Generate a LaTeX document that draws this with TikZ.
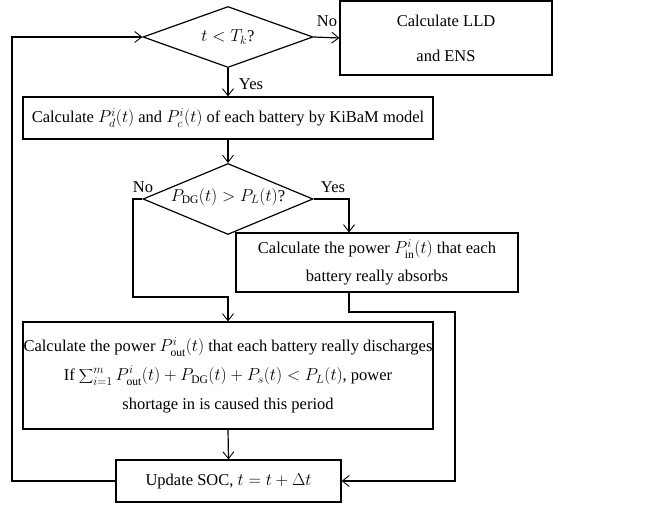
\documentclass[tikz,border=0pt]{standalone}
\usepackage{fontspec}
\setmainfont{Liberation Serif}
\usetikzlibrary{shapes.geometric,arrows.meta}
\tikzset{
  every picture/.style={line width=1.2pt},
  box/.style={draw, rectangle, inner sep=0pt, align=center, font=\fontsize{16.5}{29}\selectfont},
  dia/.style={draw, diamond, inner sep=0pt, aspect=2.8},
  lbl/.style={inner sep=0pt, font=\fontsize{16.5}{20}\selectfont},
  arr/.style={-{Straight Barb[length=7pt,width=11pt,line width=0.9pt]}},
}
\begin{document}
\begin{tikzpicture}[x=1pt,y=-1pt]
\useasboundingbox (0,0) rectangle (648,505);
% nodes
\node[dia, minimum width=170pt, minimum height=61pt] (d1) at (228,37) {};
\node[lbl] (d1t) at (228,37) {$t < T_k$?};
\node[box, minimum width=212pt, minimum height=74pt, font=\fontsize{16.5}{35}\selectfont] (lld) at (446,38) {Calculate LLD\\and ENS};
\node[box, minimum width=410pt, minimum height=42pt] (b2) at (228,118) {Calculate $P^i_d(t)$ and $P^i_c(t)$ of each battery by KiBaM model};
\node[dia, minimum width=170pt, minimum height=71pt] (d2) at (228,199) {};
\node[lbl] (d2t) at (228,197) {$P_{\mathrm{DG}}(t) > P_L(t)$?};
\node[box, minimum width=282pt, minimum height=59pt, font=\fontsize{16.5}{28}\selectfont] (b4) at (377,262.5) {Calculate the power $P^i_{\mathrm{in}}(t)$ that each\\battery really absorbs};
\node[box, minimum width=410pt, minimum height=107pt] (b3) at (228,375.5) {Calculate the power $P^i_{\mathrm{out}}(t)$ that each battery really discharges\\If $\displaystyle\sum\nolimits_{i=1}^m P^i_{\mathrm{out}}(t) + P_{\mathrm{DG}}(t) + P_s(t) < P_L(t)$, power\\shortage in is caused this period};
\node[box, minimum width=225pt, minimum height=42pt] (b5) at (228.5,481) {Update SOC, $t = t + \Delta t$};
% labels
\node[lbl] (no1) at (327,21) {No};
\node[lbl] (yes1) at (251,84) {Yes};
\node[lbl] (no2) at (143,187) {No};
\node[lbl] (yes2) at (333,187) {Yes};
% connectors
\draw[arr] (d1.east) -- (lld.west);
\draw[arr] (d1.south) -- (b2.north);
\draw[arr] (b2.south) -- (d2.north);
\coordinate (nl) at (133,199);
\coordinate (nb) at (133,297);
\draw[arr] (d2.west) -- (nl) -- (nb) -- (nb -| b3.north) -- (b3.north);
\coordinate (yr) at (349,199);
\draw[arr] (d2.east) -- (yr) -- (yr |- b4.north);
\coordinate (ab) at (349,312);
\coordinate (ar) at (455,312);
\draw[arr] (ab |- b4.south) -- (ab) -- (ar) -- (ar |- b5.east) -- (b5.east);
\draw[arr] (b3.south) -- (b5.north);
\coordinate (lb) at (12,481);
\coordinate (lt) at (12,37);
\draw[arr] (b5.west) -- (lb) -- (lt) -- (d1.west);
\end{tikzpicture}
\end{document}
